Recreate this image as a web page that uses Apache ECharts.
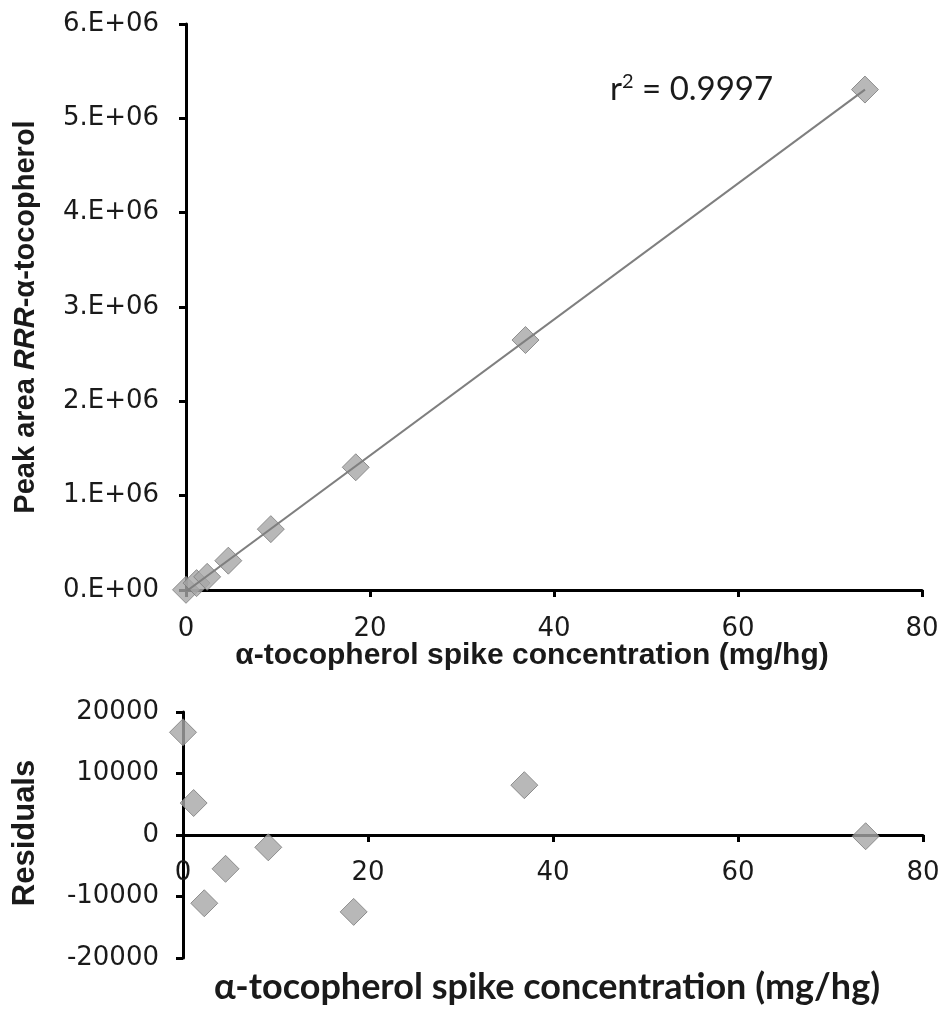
<!DOCTYPE html>
<html>
<head>
<meta charset="utf-8">
<script src="https://cdn.jsdelivr.net/npm/echarts@6/dist/echarts.min.js"></script>
<style>
  html, body { margin: 0; padding: 0; background: #fff; }
  #chart { width: 946px; height: 1014px; }
</style>
</head>
<body>
<div id="chart"></div>
<script>
// Spike concentration of alpha-tocopherol (mg/hg)
const spikeConc = [0, 1.15, 2.3, 4.6, 9.22, 18.45, 36.9, 73.8];
// Measured peak area of RRR-alpha-tocopherol
const peakArea = [2000, 73000, 139500, 310700, 645000, 1301000, 2650000, 5305000];
// Residuals of the calibration fit
const residuals = [16700, 5200, -11100, -5500, -2000, -12500, 8100, -200];
const r2Text = '0.9997';

// Least-squares calibration line through the measured points
function linearFit(xs, ys) {
  const n = xs.length;
  const mx = xs.reduce((a, b) => a + b, 0) / n;
  const my = ys.reduce((a, b) => a + b, 0) / n;
  let sxy = 0, sxx = 0;
  for (let i = 0; i < n; i++) {
    sxy += (xs[i] - mx) * (ys[i] - my);
    sxx += (xs[i] - mx) * (xs[i] - mx);
  }
  const slope = sxy / sxx;
  return { slope, intercept: my - slope * mx };
}
const fit = linearFit(spikeConc, peakArea);
const xEnd = Math.max(...spikeConc);
const fitLine = [[0, fit.intercept], [xEnd, fit.intercept + fit.slope * xEnd]];

const AXIS_COLOR = '#000';
const TEXT_COLOR = '#1a1a1a';
const MARKER_FILL = '#a6a6a6';
const MARKER_EDGE = '#7a7a7a';
const tickFont = { fontFamily: 'DejaVu Sans', fontSize: 26, color: TEXT_COLOR };

function axisBase() {
  return {
    axisLine: { show: true, onZero: false, lineStyle: { color: AXIS_COLOR, width: 3 } },
    axisTick: { show: true, length: 7, inside: false, lineStyle: { color: AXIS_COLOR, width: 3 } },
    splitLine: { show: false },
  };
}

const chart = echarts.init(document.getElementById('chart'), null, { renderer: 'canvas' });

// residual panel: x axis sits on the zero line (half of the plot height above the bottom)
const RES_GRID = { left: 183, right: 23, top: 712, bottom: 56 };
const resPlotHeight = 1014 - RES_GRID.top - RES_GRID.bottom;

const option = {
  animation: false,
  backgroundColor: '#fff',
  grid: [
    { left: 186, right: 24, top: 24, bottom: 424, containLabel: false },
    Object.assign({ containLabel: false }, RES_GRID)
  ],
  xAxis: [
    Object.assign(axisBase(), {
      gridIndex: 0, type: 'value', min: 0, max: 80, interval: 20,
      axisLabel: Object.assign({ margin: 26 }, tickFont)
    }),
    Object.assign(axisBase(), {
      gridIndex: 1, type: 'value', min: 0, max: 80, interval: 20,
      offset: -resPlotHeight / 2,
      axisLabel: Object.assign({ margin: 25 }, tickFont)
    })
  ],
  yAxis: [
    Object.assign(axisBase(), {
      gridIndex: 0, type: 'value', min: 0, max: 6000000, interval: 1000000,
      axisLabel: Object.assign({
        margin: 27,
        formatter: v => (v === 0 ? '0.E+00' : (v / 1e6) + '.E+06')
      }, tickFont)
    }),
    Object.assign(axisBase(), {
      gridIndex: 1, type: 'value', min: -20000, max: 20000, interval: 10000,
      axisLabel: Object.assign({ margin: 24, formatter: v => String(v) }, tickFont)
    })
  ],
  graphic: [
    {
      // y-axis title of the calibration panel
      type: 'text', x: 26, y: 317, rotation: Math.PI / 2,
      style: {
        text: '{b|Peak area }{i|RRR}{b|-α-tocopherol}',
        align: 'center', verticalAlign: 'middle',
        rich: {
          b: { fontFamily: 'Liberation Sans', fontWeight: 'bold', fontSize: 29, fill: TEXT_COLOR },
          i: { fontFamily: 'Liberation Sans', fontWeight: 'bold', fontStyle: 'italic', fontSize: 29, fill: TEXT_COLOR }
        }
      }
    },
    {
      // x-axis title of the calibration panel
      type: 'text', x: 532, y: 656,
      style: {
        text: 'α-tocopherol spike concentration (mg/hg)',
        align: 'center', verticalAlign: 'middle',
        fontFamily: 'Liberation Sans', fontWeight: 'bold', fontSize: 30, fill: TEXT_COLOR
      }
    },
    {
      // y-axis title of the residual panel
      type: 'text', x: 25, y: 833, rotation: Math.PI / 2,
      style: {
        text: 'Residuals',
        align: 'center', verticalAlign: 'middle',
        fontFamily: 'Liberation Sans', fontWeight: 'bold', fontSize: 31, fill: TEXT_COLOR
      }
    },
    {
      // x-axis title of the residual panel
      type: 'text', x: 547, y: 987,
      style: {
        text: 'α-tocopherol spike concentration (mg/hg)',
        align: 'center', verticalAlign: 'middle',
        fontFamily: 'Lato', fontWeight: 'bold', fontSize: 36, fill: TEXT_COLOR
      }
    },
    {
      // coefficient of determination
      type: 'text', x: 610, y: 89,
      style: {
        text: '{a|r}{s|2}{a| = ' + r2Text + '}',
        verticalAlign: 'middle',
        rich: {
          a: { fontFamily: 'Lato', fontSize: 33, fill: TEXT_COLOR },
          s: { fontFamily: 'Lato', fontSize: 20, fill: TEXT_COLOR, verticalAlign: 'top', padding: [0, 0, 14, 0] }
        }
      }
    }
  ],
  series: [
    {
      type: 'scatter', xAxisIndex: 0, yAxisIndex: 0,
      data: spikeConc.map((x, i) => [x, peakArea[i]]),
      symbol: 'diamond', symbolSize: 27,
      itemStyle: { color: MARKER_FILL, borderColor: MARKER_EDGE, borderWidth: 1 },
      z: 2
    },
    {
      type: 'line', xAxisIndex: 0, yAxisIndex: 0,
      data: fitLine, showSymbol: false, symbol: 'none',
      lineStyle: { color: '#7f7f7f', width: 2 },
      z: 3
    },
    {
      type: 'scatter', xAxisIndex: 1, yAxisIndex: 1,
      data: spikeConc.map((x, i) => [x, residuals[i]]),
      symbol: 'diamond', symbolSize: 27,
      itemStyle: { color: MARKER_FILL, borderColor: MARKER_EDGE, borderWidth: 1 },
      z: 3
    }
  ]
};

chart.setOption(option);
</script>
</body>
</html>
